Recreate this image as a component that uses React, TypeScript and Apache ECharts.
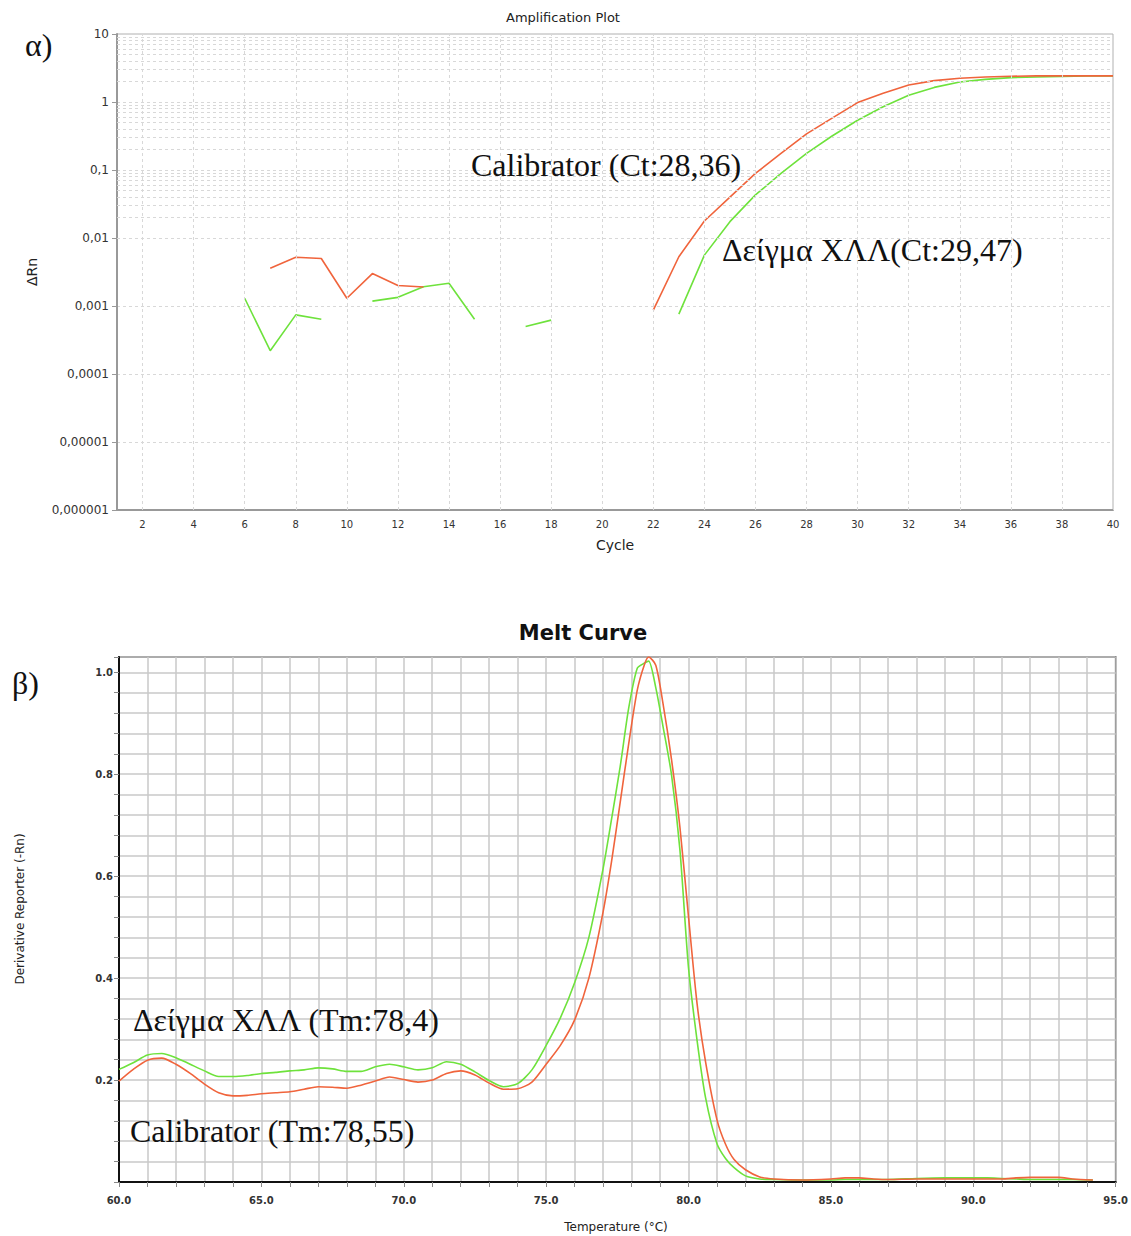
import React, { useEffect, useRef } from "react";
import * as echarts from "echarts";

// ---------- Amplification plot (top) ----------
const cycles = [
  1, 2, 3, 4, 5, 6, 7, 8, 9, 10, 11, 12, 13, 14, 15, 16, 17, 18, 19, 20,
  21, 22, 23, 24, 25, 26, 27, 28, 29, 30, 31, 32, 33, 34, 35, 36, 37, 38, 39, 40,
];
const xTickCycles = [2, 4, 6, 8, 10, 12, 14, 16, 18, 20, 22, 24, 26, 28, 30, 32, 34, 36, 38, 40];
const yTickLabels = ["0,000001", "0,00001", "0,0001", "0,001", "0,01", "0,1", "1", "10"];

const calibratorDeltaRn: (number | null)[] = [
  null, null, null, null, null, null, 0.0036, 0.0052, 0.005, 0.0013,
  0.003, 0.002, 0.0019, null, null, null, null, null, null, null,
  null, 0.00087, 0.0053, 0.0178, 0.04, 0.089, 0.176, 0.34, 0.58, 0.98,
  1.34, 1.78, 2.06, 2.23, 2.33, 2.39, 2.42, 2.42, 2.42, 2.42,
];
const sampleDeltaRn: (number | null)[] = [
  null, null, null, null, null, 0.0013, 0.00022, 0.00074, 0.00064, null,
  0.00118, 0.00134, 0.00192, 0.00216, 0.00064, null, 0.0005, 0.00062, null, null,
  null, null, 0.00076, 0.0056, 0.0174, 0.043, 0.089, 0.176, 0.316, 0.54,
  0.85, 1.26, 1.64, 1.97, 2.15, 2.28, 2.33, 2.38, 2.42, 2.42,
];

// ---------- Melt curve (bottom) ----------
const meltTemperatures = [
  60.0, 60.5, 61.0, 61.5, 62.0, 62.5, 63.0, 63.5, 64.0, 64.5,
  65.0, 65.5, 66.0, 66.5, 67.0, 67.5, 68.0, 68.5, 69.0, 69.5,
  70.0, 70.5, 71.0, 71.5, 72.0, 72.5, 73.0, 73.5, 74.0, 74.5,
  75.0, 75.5, 76.0, 76.5,
  77.0, 77.3, 77.6, 77.9, 78.2, 78.45, 78.6, 78.85, 79.1, 79.4,
  79.7, 80.0, 80.3, 80.6, 81.0, 81.3, 81.6, 82.0, 82.5, 83.0,
  84.0, 85.0, 85.5, 86.0, 86.5, 87.0, 88.0, 89.0, 90.0, 90.5,
  91.0, 91.5, 92.0, 93.0, 93.5, 94.2,
];
const sampleMelt = [
  0.221, 0.234, 0.249, 0.252, 0.244, 0.231, 0.218, 0.207, 0.207, 0.209,
  0.213, 0.215, 0.218, 0.22, 0.224, 0.222, 0.217, 0.217, 0.226, 0.231,
  0.226, 0.22, 0.224, 0.236, 0.231, 0.216, 0.199, 0.187, 0.193, 0.22,
  0.268, 0.322, 0.391, 0.48,
  0.615, 0.713, 0.815, 0.93, 1.008, 1.018, 1.022, 0.97, 0.895, 0.8,
  0.65, 0.42, 0.278, 0.165, 0.075, 0.046, 0.028, 0.012, 0.006, 0.005,
  0.004, 0.004, 0.005, 0.005, 0.005, 0.005, 0.007, 0.008, 0.008, 0.008,
  0.007, 0.006, 0.005, 0.005, 0.005, 0.004,
];
const calibratorMelt = [
  0.198, 0.221, 0.239, 0.243, 0.231, 0.213, 0.192, 0.175, 0.169, 0.17,
  0.173, 0.175, 0.177, 0.182, 0.187, 0.186, 0.184, 0.19, 0.198, 0.206,
  0.201, 0.196, 0.2, 0.213, 0.218, 0.21, 0.194, 0.182, 0.183, 0.196,
  0.231, 0.268, 0.318, 0.4,
  0.53, 0.63, 0.745, 0.86, 0.965, 1.015, 1.03, 1.014, 0.94, 0.83,
  0.695, 0.52, 0.35, 0.235, 0.122, 0.074, 0.044, 0.024, 0.01, 0.006,
  0.004, 0.006, 0.008, 0.008, 0.006, 0.005, 0.006, 0.006, 0.006, 0.006,
  0.006, 0.008, 0.009, 0.009, 0.006, 0.004,
];

const RED = "#f0643c";
const GREEN = "#6ee23c";
const SANS = "DejaVu Sans";
const SERIF = "Liberation Serif";

export default function App() {
  const ref = useRef<HTMLDivElement>(null);

  useEffect(() => {
    document.body.style.margin = "0";
    const chart = echarts.init(ref.current!, undefined, { renderer: "svg" });

    const minorGrid: number[] = [];
    for (let e = -6; e < 1; e++) {
      for (let k = 2; k <= 9; k++) minorGrid.push(k * Math.pow(10, e));
    }

    const text = (
      t: string,
      x: number,
      y: number,
      size: number,
      family: string,
      opts: any = {}
    ) => ({
      type: "text",
      x,
      y,
      z: 100,
      rotation: opts.rotation || 0,
      silent: true,
      style: {
        text: t,
        fontSize: size,
        fontFamily: family,
        fontWeight: opts.weight || "normal",
        fill: opts.fill || "#111",
        textAlign: opts.align || "center",
        textVerticalAlign: "middle",
      },
    });

    const option: any = {
      animation: false,
      grid: [
        { left: 117, top: 34, width: 996, height: 476, show: true, borderColor: "#b0b0b0", borderWidth: 1, backgroundColor: "transparent" },
        { left: 119, top: 657, width: 998, height: 525, show: true, borderColor: "#222", borderWidth: 1.5, backgroundColor: "transparent" },
      ],
      xAxis: [
        {
          gridIndex: 0,
          type: "value",
          min: 1,
          max: 40,
          interval: 1,
          axisLine: { onZero: false, lineStyle: { color: "#999", width: 2 } },
          axisTick: { show: false },
          splitLine: { show: false },
          axisLabel: {
            formatter: (v: number) => (v % 2 === 0 ? String(v) : ""),
            fontSize: 10,
            fontFamily: SANS,
            color: "#333",
            margin: 9,
          },
        },
        {
          gridIndex: 1,
          type: "value",
          min: 60,
          max: 95,
          interval: 1,
          axisLine: { onZero: false, lineStyle: { color: "#111", width: 2 } },
          axisTick: { show: true, length: 5, lineStyle: { color: "#888" } },
          splitLine: { show: true, lineStyle: { color: "#c8c8c8", width: 1.5 } },
          axisLabel: {
            formatter: (v: number) => (Math.abs(v % 5) < 1e-6 ? v.toFixed(1) : ""),
            fontSize: 10,
            fontWeight: "bold",
            fontFamily: SANS,
            color: "#333",
            margin: 13,
          },
        },
      ],
      yAxis: [
        {
          gridIndex: 0,
          type: "log",
          logBase: 10,
          min: 0.000001,
          max: 10,
          splitNumber: 7,
          axisLine: { show: true, onZero: false, lineStyle: { color: "#999", width: 2 } },
          axisTick: { show: true, length: 5, lineStyle: { color: "#999" } },
          splitLine: { show: true, lineStyle: { type: [3, 3], color: "#d8d8d8" } },
          axisLabel: {
            formatter: (v: number) => {
              const e = Math.round(Math.log10(v));
              return yTickLabels[e + 6] ?? "";
            },
            fontSize: 12,
            fontFamily: SANS,
            color: "#333",
            margin: 8,
          },
        },
        {
          gridIndex: 1,
          type: "value",
          min: 0,
          max: 1.03,
          interval: 0.04,
          axisLine: { show: true, onZero: false, lineStyle: { color: "#111", width: 2 } },
          axisTick: { show: true, length: 5, lineStyle: { color: "#888" } },
          splitLine: { show: true, lineStyle: { color: "#c8c8c8", width: 1.5 } },
          axisLabel: {
            formatter: (v: number) =>
              v > 0.01 && Math.abs(v / 0.2 - Math.round(v / 0.2)) < 1e-6 ? v.toFixed(1) : "",
            fontSize: 10,
            fontWeight: "bold",
            fontFamily: SANS,
            color: "#333",
            margin: 6,
          },
        },
      ],
      series: [
        {
          type: "line",
          name: "grid",
          xAxisIndex: 0,
          yAxisIndex: 0,
          z: 1,
          data: [],
          silent: true,
          markLine: {
            silent: true,
            symbol: ["none", "none"],
            label: { show: false },
            emphasis: { disabled: true },
            lineStyle: { type: [3, 3], color: "#d8d8d8", width: 1 },
            data: [
              ...xTickCycles.map((c) => ({ xAxis: c })),
              ...minorGrid.map((v) => ({ yAxis: v })),
            ],
          },
        },
        {
          type: "line",
          name: "Δείγμα ΧΛΛ",
          xAxisIndex: 0,
          yAxisIndex: 0,
          z: 3,
          showSymbol: false,
          symbol: "none",
          connectNulls: false,
          lineStyle: { color: GREEN, width: 1.6 },
          itemStyle: { color: GREEN },
          data: cycles.map((c, i) => [c, sampleDeltaRn[i] == null ? "-" : sampleDeltaRn[i]]),
        },
        {
          type: "line",
          name: "Calibrator",
          xAxisIndex: 0,
          yAxisIndex: 0,
          z: 3,
          showSymbol: false,
          symbol: "none",
          connectNulls: false,
          lineStyle: { color: RED, width: 1.6 },
          itemStyle: { color: RED },
          data: cycles.map((c, i) => [c, calibratorDeltaRn[i] == null ? "-" : calibratorDeltaRn[i]]),
        },
        {
          type: "line",
          name: "Δείγμα ΧΛΛ melt",
          xAxisIndex: 1,
          yAxisIndex: 1,
          z: 3,
          showSymbol: false,
          symbol: "none",
          smooth: 0.25,
          lineStyle: { color: GREEN, width: 1.6 },
          itemStyle: { color: GREEN },
          data: meltTemperatures.map((t, i) => [t, sampleMelt[i]]),
        },
        {
          type: "line",
          name: "Calibrator melt",
          xAxisIndex: 1,
          yAxisIndex: 1,
          z: 4,
          showSymbol: false,
          symbol: "none",
          smooth: 0.25,
          lineStyle: { color: RED, width: 1.6 },
          itemStyle: { color: RED },
          data: meltTemperatures.map((t, i) => [t, calibratorMelt[i]]),
        },
      ],
      graphic: [
        text("Amplification Plot", 563, 17, 13, SANS, { fill: "#222" }),
        text("Cycle", 615, 545, 14, SANS, { fill: "#222" }),
        text("ΔRn", 32, 272, 14, SANS, { fill: "#222", rotation: Math.PI / 2 }),
        text("Melt Curve", 583, 633, 21, SANS, { weight: "bold", fill: "#111" }),
        text("Derivative Reporter (-Rn)", 20, 909, 12, SANS, { fill: "#222", rotation: Math.PI / 2 }),
        text("Temperature (°C)", 616, 1227, 12, SANS, { fill: "#222" }),
        text("α)", 25, 45, 32, SERIF, { align: "left" }),
        text("β)", 12, 683, 32, SERIF, { align: "left" }),
        text("Calibrator (Ct:28,36)", 471, 165, 32, SERIF, { align: "left" }),
        text("Δείγμα ΧΛΛ(Ct:29,47)", 722, 250, 32, SERIF, { align: "left" }),
        text("Δείγμα ΧΛΛ (Tm:78,4)", 133, 1020, 32, SERIF, { align: "left" }),
        text("Calibrator (Tm:78,55)", 130, 1131, 32, SERIF, { align: "left" }),
      ],
    };

    chart.setOption(option);
    return () => chart.dispose();
  }, []);

  return <div ref={ref} style={{ width: 1131, height: 1236 }} />;
}
